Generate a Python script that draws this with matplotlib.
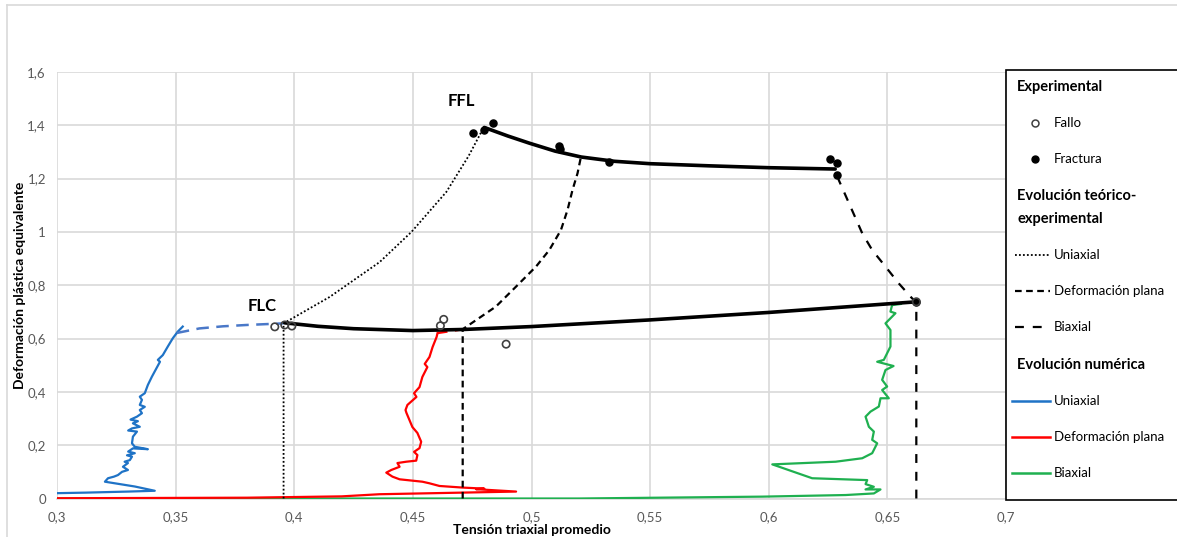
import matplotlib
matplotlib.use("Agg")
import matplotlib.pyplot as plt
from matplotlib.lines import Line2D
from matplotlib.patches import Rectangle

plt.rcParams['font.family'] = ['Lato', 'DejaVu Sans']

# ---------------- data ----------------
# Experimental points
fallo_x = [0.3918, 0.3960, 0.3990, 0.4616, 0.4630, 0.4893, 0.6622]
fallo_y = [0.644, 0.651, 0.647, 0.648, 0.672, 0.579, 0.738]
fractura_x = [0.4752, 0.4801, 0.4836, 0.5114, 0.5121, 0.5327, 0.6260, 0.6286, 0.6288, 0.6622]
fractura_y = [1.370, 1.383, 1.410, 1.324, 1.311, 1.262, 1.274, 1.258, 1.214, 0.738]

# Forming limit curves
flc_x = [0.396, 0.41, 0.425, 0.45, 0.471, 0.50, 0.52, 0.55, 0.60, 0.6624]
flc_y = [0.659, 0.646, 0.637, 0.630, 0.634, 0.645, 0.655, 0.670, 0.698, 0.738]
ffl_x = [0.4801, 0.490, 0.4991, 0.510, 0.521, 0.535, 0.55, 0.575, 0.60, 0.628]
ffl_y = [1.392, 1.360, 1.333, 1.303, 1.281, 1.265, 1.256, 1.248, 1.241, 1.236]

# Theoretical-experimental strain paths
uni_path_x = [0.3955, 0.3955, 0.4149, 0.436, 0.4494, 0.4641, 0.4735, 0.4795]
uni_path_y = [0.0, 0.657, 0.756, 0.887, 1.000, 1.150, 1.285, 1.386]
plane_path_x = [0.4710, 0.4710, 0.4850, 0.4935, 0.5019, 0.5075, 0.5124, 0.5152, 0.5173, 0.5194, 0.5208]
plane_path_y = [0.0, 0.635, 0.720, 0.795, 0.870, 0.932, 1.007, 1.083, 1.158, 1.220, 1.280]
biax_path_x = [0.6622, 0.6622, 0.6604, 0.6548, 0.6492, 0.6436, 0.6394, 0.6338, 0.6295, 0.6287]
biax_path_y = [0.0, 0.738, 0.751, 0.807, 0.870, 0.932, 0.995, 1.108, 1.195, 1.236]

# Numerical strain paths
num_uni_x = [0.300, 0.312, 0.330, 0.3412, 0.3328, 0.3202, 0.3215, 0.3240, 0.3257, 0.3274,
             0.3299, 0.3278, 0.3299, 0.3285, 0.3307, 0.3316, 0.3295, 0.3328, 0.3300, 0.3320,
             0.3383, 0.3328, 0.3316, 0.3320, 0.3337, 0.3300, 0.3316, 0.3349, 0.3320, 0.3341,
             0.3310, 0.3337, 0.3358, 0.3349, 0.3370, 0.3349, 0.3358, 0.3349, 0.3370, 0.3383,
             0.3400, 0.3434, 0.3425, 0.3446, 0.3467, 0.3488, 0.3509, 0.3530]
num_uni_y = [0.020, 0.022, 0.026, 0.029, 0.045, 0.063, 0.076, 0.082, 0.088, 0.100,
             0.107, 0.119, 0.133, 0.138, 0.144, 0.157, 0.162, 0.170, 0.176, 0.188,
             0.185, 0.194, 0.207, 0.232, 0.251, 0.255, 0.263, 0.269, 0.282, 0.290,
             0.296, 0.307, 0.320, 0.332, 0.344, 0.351, 0.370, 0.382, 0.395, 0.426,
             0.457, 0.513, 0.520, 0.538, 0.570, 0.601, 0.626, 0.645]
num_plane_x = [0.300, 0.380, 0.420, 0.4359, 0.4935, 0.4766, 0.4801, 0.4709, 0.4612, 0.4570,
               0.4540, 0.4444, 0.4414, 0.4388, 0.4409, 0.4444, 0.4435, 0.4472, 0.4514, 0.4519,
               0.4505, 0.4528, 0.4535, 0.4519, 0.4498, 0.4473, 0.4469, 0.4477, 0.4515, 0.4505,
               0.4528, 0.4540, 0.4561, 0.4550, 0.4570, 0.4583, 0.4600, 0.4604]
num_plane_y = [0.001, 0.003, 0.008, 0.016, 0.026, 0.035, 0.037, 0.041, 0.047, 0.057,
               0.063, 0.072, 0.082, 0.097, 0.107, 0.119, 0.133, 0.138, 0.142, 0.163,
               0.175, 0.189, 0.213, 0.246, 0.268, 0.321, 0.332, 0.351, 0.381, 0.395,
               0.418, 0.456, 0.493, 0.505, 0.531, 0.568, 0.606, 0.621]
num_biax_x = [0.300, 0.520, 0.5973, 0.6324, 0.6443, 0.6471, 0.6408, 0.6443, 0.6408, 0.6415,
              0.6183, 0.6015, 0.6282, 0.6394, 0.6436, 0.6457, 0.6436, 0.6443, 0.6422, 0.6408,
              0.6429, 0.6464, 0.6471, 0.6506, 0.6478, 0.6499, 0.6478, 0.6492, 0.6526, 0.6457,
              0.6485, 0.6513, 0.6513, 0.6492, 0.6534, 0.6513, 0.6520]
num_biax_y = [0.0, 0.0, 0.007, 0.013, 0.019, 0.034, 0.034, 0.044, 0.054, 0.069,
              0.076, 0.128, 0.138, 0.151, 0.170, 0.207, 0.220, 0.251, 0.269, 0.307,
              0.326, 0.345, 0.376, 0.376, 0.407, 0.420, 0.445, 0.482, 0.497, 0.513,
              0.520, 0.570, 0.632, 0.657, 0.695, 0.701, 0.726]

# Extrapolated numerical ends (dashed)
ext_uni_x = [0.3505, 0.360, 0.370, 0.380, 0.3955]
ext_uni_y = [0.621, 0.638, 0.646, 0.651, 0.657]
ext_plane_x = [0.4604, 0.4710]
ext_plane_y = [0.621, 0.635]
ext_biax_x = [0.6520, 0.6622]
ext_biax_y = [0.726, 0.738]

x_ticks = [0.3, 0.35, 0.4, 0.45, 0.5, 0.55, 0.6, 0.65, 0.7]
x_tick_labels = ['0,3', '0,35', '0,4', '0,45', '0,5', '0,55', '0,6', '0,65', '0,7']
y_ticks = [0, 0.2, 0.4, 0.6, 0.8, 1.0, 1.2, 1.4, 1.6]
y_tick_labels = ['0', '0,2', '0,4', '0,6', '0,8', '1', '1,2', '1,4', '1,6']

BLUE = '#1f73c6'
BLUE_EXT = '#4a78c8'
RED = '#ff0000'
GREEN = '#1fb050'
GRID = '#d9d9d9'
TICK = '#595959'

W, H = 1177, 537
fig = plt.figure(figsize=(W / 100, H / 100), dpi=100)


def fx(px):
    return px / W


def fy(py):
    return 1 - py / H


ax = fig.add_axes([fx(57), fy(498.5), fx(1006) - fx(57), fy(72) - fy(498.5)])
ax.set_xlim(0.3, 0.7)
ax.set_ylim(0, 1.6)
ax.set_xticks(x_ticks)
ax.set_xticklabels(x_tick_labels)
ax.set_yticks(y_ticks)
ax.set_yticklabels(y_tick_labels)
ax.tick_params(length=0, labelsize=9.5, colors=TICK, pad=9)
ax.tick_params(axis='y', pad=8)
ax.grid(True, color=GRID, lw=1.2)
ax.set_axisbelow(True)
for s in ['top', 'right', 'left']:
    ax.spines[s].set_visible(False)
ax.spines['bottom'].set_color(GRID)
ax.spines['bottom'].set_linewidth(1.2)

# numerical paths
ax.plot(num_biax_x, num_biax_y, color=GREEN, lw=1.6, zorder=3)
ax.plot(num_plane_x, num_plane_y, color=RED, lw=1.6, zorder=3)
ax.plot(num_uni_x, num_uni_y, color=BLUE, lw=1.6, zorder=3)
ax.plot(ext_uni_x, ext_uni_y, color=BLUE_EXT, lw=1.8, ls=(0, (5, 3)), zorder=3)
ax.plot(ext_plane_x, ext_plane_y, color=RED, lw=1.8, ls=(0, (4, 3)), zorder=3)
ax.plot(ext_biax_x, ext_biax_y, color=GREEN, lw=1.8, ls=(0, (4, 3)), zorder=3)

# theoretical-experimental paths
ax.plot(uni_path_x, uni_path_y, color='black', lw=1.3, ls=(0, (1, 1.2)), zorder=4)
ax.plot(plane_path_x, plane_path_y, color='black', lw=1.6, ls=(0, (3, 2)), zorder=4)
ax.plot(biax_path_x, biax_path_y, color='black', lw=1.6, ls=(0, (4, 4)), zorder=4)

# limit curves
ax.plot(flc_x, flc_y, color='black', lw=2.6, zorder=5, solid_capstyle='round')
ax.plot(ffl_x, ffl_y, color='black', lw=2.6, zorder=5, solid_capstyle='round')

ax.scatter(fractura_x, fractura_y, s=26, color='black', zorder=6)
ax.scatter(fallo_x, fallo_y, s=28, facecolors='none', edgecolors='#404040', linewidths=1.2, zorder=6)

ax.text(0.4705, 1.49, 'FFL', fontsize=12, fontweight='bold', ha='center', va='center')
ax.text(0.3863, 0.722, 'FLC', fontsize=12, fontweight='bold', ha='center', va='center')

ax.set_xlabel('Tensión triaxial promedio', fontsize=10, fontweight='bold', labelpad=1)
ax.set_ylabel('Deformación plástica equivalente', fontsize=10, fontweight='bold', labelpad=1)

# chart frame
fig.add_artist(Line2D([fx(7), fx(7)], [fy(5), 0], color=GRID, lw=1.2))
fig.add_artist(Line2D([fx(7), 1], [fy(5), fy(5)], color=GRID, lw=1.2))

# legend panel
fig.add_artist(Rectangle((fx(1006), fy(500)), fx(180), fy(70) - fy(500),
                         facecolor='white', edgecolor='black', lw=1.2,
                         transform=fig.transFigure, zorder=10, clip_on=False))
lx0, lx1, tx = 1015, 1050, 1054


def leg_title(py, s):
    fig.text(fx(1017), fy(py), s, fontsize=10.5, fontweight='bold', va='center', ha='left', zorder=11)


def leg_item(py, s):
    fig.text(fx(tx), fy(py), s, fontsize=9.5, va='center', ha='left', zorder=11)


leg_title(87, 'Experimental')
fig.add_artist(Line2D([fx(1035)], [fy(123)], marker='o', ms=5, mfc='none', mec='#404040', mew=1.1, zorder=11))
leg_item(123, 'Fallo')
fig.add_artist(Line2D([fx(1035)], [fy(159)], marker='o', ms=5, color='black', zorder=11))
leg_item(159, 'Fractura')
leg_title(196, 'Evolución teórico-')
leg_title(219, 'experimental')
fig.add_artist(Line2D([fx(lx0), fx(lx1)], [fy(255)] * 2, color='black', lw=1.3, ls=(0, (1, 1.2)), zorder=11))
leg_item(255, 'Uniaxial')
fig.add_artist(Line2D([fx(lx0), fx(lx1)], [fy(291)] * 2, color='black', lw=1.6, ls=(0, (3, 2)), zorder=11))
leg_item(291, 'Deformación plana')
fig.add_artist(Line2D([fx(lx0), fx(lx1)], [fy(327)] * 2, color='black', lw=1.6, ls=(0, (4, 4)), zorder=11))
leg_item(327, 'Biaxial')
leg_title(365, 'Evolución numérica')
fig.add_artist(Line2D([fx(lx0 - 3), fx(lx1)], [fy(401)] * 2, color=BLUE, lw=1.8, zorder=11))
leg_item(401, 'Uniaxial')
fig.add_artist(Line2D([fx(lx0 - 3), fx(lx1)], [fy(437)] * 2, color=RED, lw=1.8, zorder=11))
leg_item(437, 'Deformación plana')
fig.add_artist(Line2D([fx(lx0 - 3), fx(lx1)], [fy(473)] * 2, color=GREEN, lw=1.8, zorder=11))
leg_item(473, 'Biaxial')

fig.savefig('out.png', dpi=100, facecolor='white')
